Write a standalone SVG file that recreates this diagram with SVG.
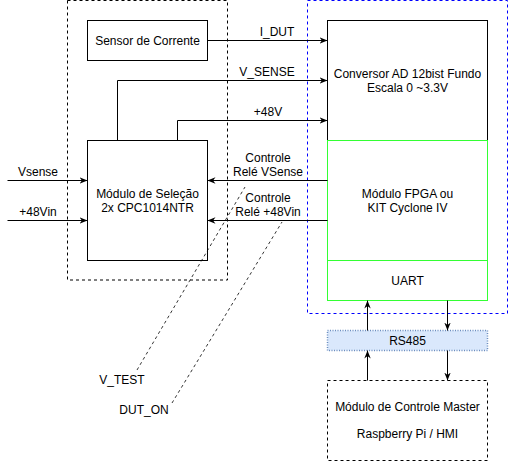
<svg xmlns="http://www.w3.org/2000/svg" width="508" height="461" viewBox="0 0 508 461">
<defs>
<style>
text{font-family:"Liberation Sans",Arial,sans-serif;font-size:12px;fill:#000;text-anchor:middle;dominant-baseline:central}
.box{fill:#fff;stroke:#000;stroke-width:1}
.green{fill:#fff;stroke:#33ff33;stroke-width:1}
.dash{fill:none;stroke:#000;stroke-dasharray:3 3}
.edge{fill:none;stroke:#000;stroke-width:1}
.thin{fill:none;stroke:#000;stroke-width:0.8;stroke-dasharray:3 3}
</style>
<marker id="arr" viewBox="0 0 10 10" refX="10" refY="5" markerWidth="8" markerHeight="8" markerUnits="userSpaceOnUse" orient="auto">
<path d="M0,1 L10,5 L0,9 L3,5 Z" fill="#000"/>
</marker>
</defs>
<g id="grupo-esquerdo"><rect x="67.5" y="0.5" width="160" height="279.5" class="dash"/></g>
<g id="grupo-fpga"><rect x="307.5" y="0.5" width="200" height="313" fill="none" stroke="#0000ff" stroke-dasharray="3 3"/></g>
<g id="sensor"><rect x="87.5" y="20.5" width="120" height="40" class="box"/><text x="147.5" y="40.5">Sensor de Corrente</text></g>
<g id="selecao"><rect x="87.5" y="140.5" width="120" height="120" class="box"/><text x="147.5" y="194">Módulo de Seleção</text><text x="147.5" y="208">2x CPC1014NTR</text></g>
<g id="conversor"><rect x="327.5" y="20.5" width="160" height="120" class="box"/><text x="407.5" y="74">Conversor AD 12bist Fundo</text><text x="407.5" y="88">Escala 0 ~3.3V</text></g>
<g id="fpga"><rect x="327.5" y="140.5" width="160" height="120" class="green"/><text x="407.5" y="194">Módulo FPGA ou</text><text x="407.5" y="208">KIT Cyclone IV</text></g>
<g id="uart"><rect x="327.5" y="260.5" width="160" height="40" class="green"/><text x="407.5" y="280.5">UART</text></g>
<g id="rs485"><rect x="327.5" y="330.5" width="160" height="20" fill="#dae8fc" stroke="#6c8ebf" stroke-width="1.5" stroke-dasharray="1 1.5"/><text x="407.5" y="340.5">RS485</text></g>
<g id="master"><rect x="327.5" y="380.5" width="160" height="80" fill="#fff" stroke="#000" stroke-dasharray="3 3"/><text x="407.5" y="407">Módulo de Controle Master</text><text x="407.5" y="434">Raspberry Pi / HMI</text></g>
<g id="conectores">
<path d="M207.5,40.5 H327.5" class="edge" marker-end="url(#arr)"/>
<path d="M117.5,140.5 V80.5 H327.5" class="edge" marker-end="url(#arr)"/>
<path d="M177.5,140.5 V120.5 H327.5" class="edge" marker-end="url(#arr)"/>
<path d="M7.5,180.5 H87.5" class="edge" marker-end="url(#arr)"/>
<path d="M7.5,220.5 H87.5" class="edge" marker-end="url(#arr)"/>
<path d="M327.5,180.5 H207.5" class="edge" marker-end="url(#arr)"/>
<path d="M327.5,220.5 H207.5" class="edge" marker-end="url(#arr)"/>
<path d="M367.5,330.5 V300.5" class="edge" marker-end="url(#arr)"/>
<path d="M447.5,300.5 V330.5" class="edge" marker-end="url(#arr)"/>
<path d="M367.5,380.5 V350.5" class="edge" marker-end="url(#arr)"/>
<path d="M447.5,350.5 V380.5" class="edge" marker-end="url(#arr)"/>
<path d="M137,370 L245,187" class="thin"/>
<path d="M172,403 L282,222" class="thin"/>
</g>
<g id="rotulos">
<text x="277" y="32">I_DUT</text>
<text x="267" y="72">V_SENSE</text>
<text x="268" y="112">+48V</text>
<text x="38" y="172">Vsense</text>
<text x="38" y="212">+48Vin</text>
<text x="268" y="158">Controle</text>
<text x="268" y="172">Relé VSense</text>
<text x="268" y="198">Controle</text>
<text x="268" y="212">Relé +48Vin</text>
<text x="122" y="380">V_TEST</text>
<text x="144" y="410">DUT_ON</text>
</g>
</svg>
